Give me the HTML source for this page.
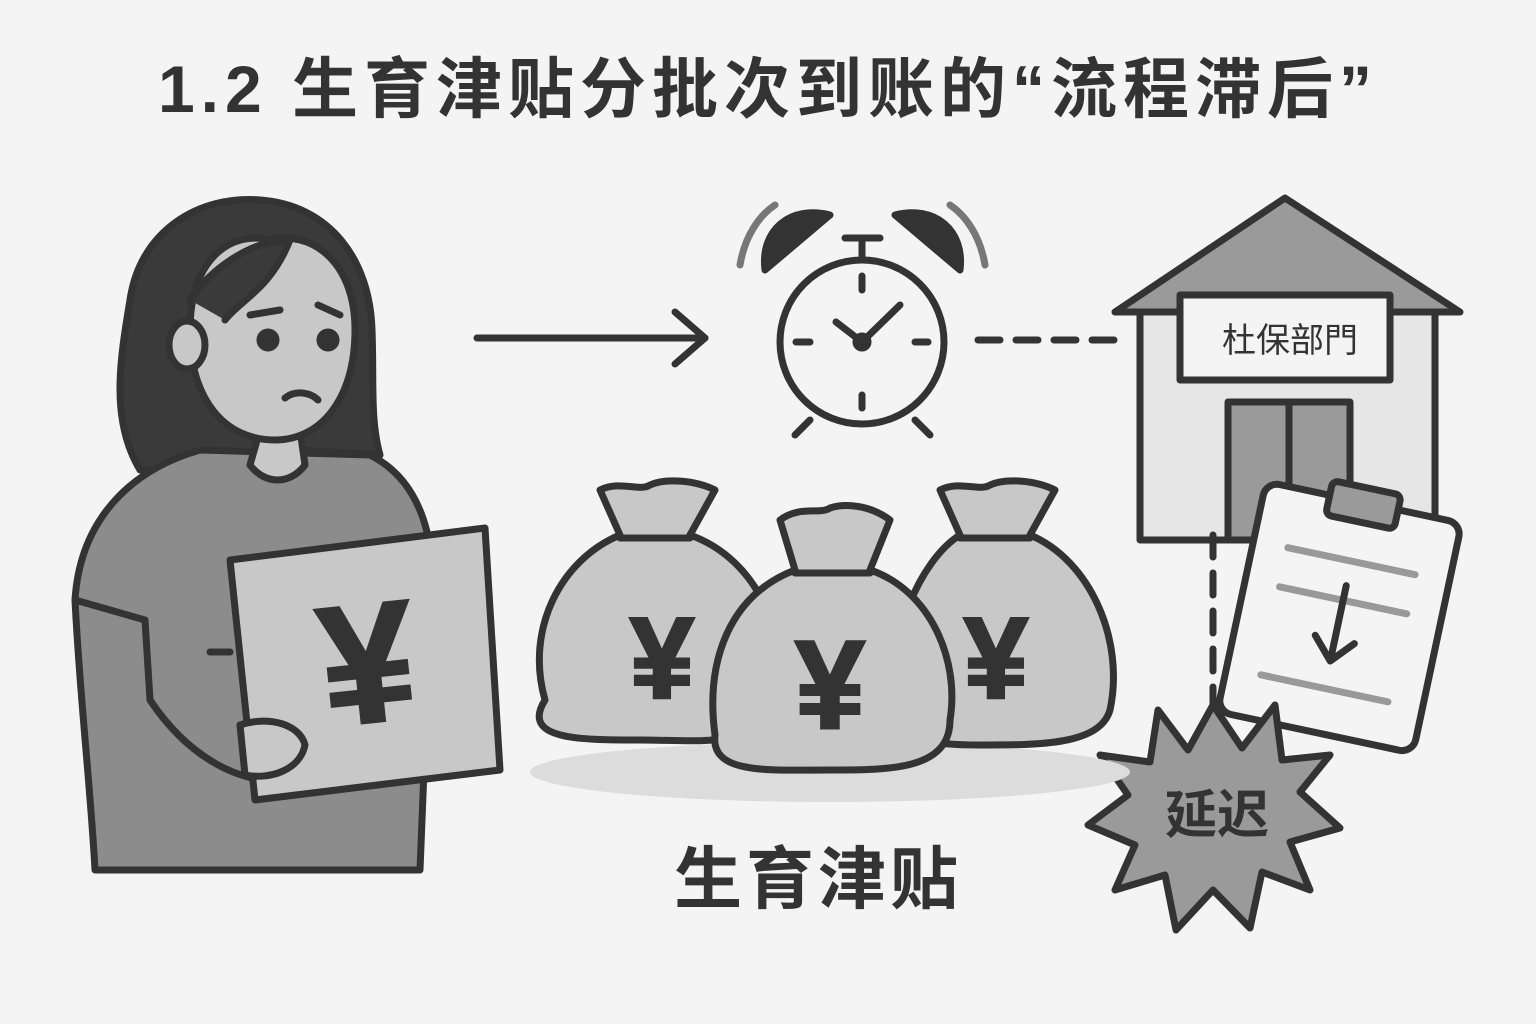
<!DOCTYPE html>
<html><head><meta charset="utf-8"><style>
html,body{margin:0;padding:0;background:#f4f4f4;}
svg{display:block}
text{font-family:"Liberation Sans","Noto Sans CJK SC",sans-serif;font-weight:bold;fill:#333}
</style></head><body>
<svg width="1536" height="1024" viewBox="0 0 1536 1024" xmlns="http://www.w3.org/2000/svg">
<rect width="1536" height="1024" fill="#f4f4f4"/>
<text x="768" y="112" font-size="66" letter-spacing="6" text-anchor="middle">1.2 生育津贴分批次到账的“流程滞后”</text>

<g stroke="#333" stroke-width="7" stroke-linecap="round" stroke-linejoin="round">
<!-- woman -->
<path d="M140,470 C110,420 120,360 130,300 C140,230 200,195 260,200 C330,205 370,260 372,330 C374,380 370,420 380,455 L300,450 L180,470 Z" fill="#3a3a3a"/>
<path d="M75,600 C80,520 130,470 200,450 L370,455 C420,480 440,540 430,620 L420,870 L95,870 C90,780 80,700 75,600 Z" fill="#8c8c8c"/>
<path d="M75,600 L145,620 L150,700 C190,760 240,780 270,780" fill="none"/>
<path d="M250,465 L260,430 L300,430 L305,465 C290,485 265,485 250,465Z" fill="#c8c8c8"/>
<path d="M190,330 C190,260 230,230 270,240 C310,230 355,260 355,330 C355,400 320,440 275,440 C225,440 190,400 190,330Z" fill="#c8c8c8"/>
<path d="M190,300 C210,270 250,240 290,240 C270,290 240,300 225,320" fill="#3a3a3a"/>
<ellipse cx="187" cy="345" rx="18" ry="24" fill="#c8c8c8"/>
<circle cx="268" cy="340" r="8" fill="#333"/><circle cx="328" cy="340" r="8" fill="#333"/>
<path d="M250,315 L280,310 M318,305 L340,315 M285,398 C295,390 310,392 318,400" fill="none"/>
<polygon points="230,560 485,528 500,770 255,800" fill="#c8c8c8"/>
<path d="M240,725 C270,715 300,725 305,745 C300,770 270,780 245,775 Z" fill="#c8c8c8"/>
<line x1="210" y1="652" x2="230" y2="652"/>
<!-- arrow -->
<line x1="477" y1="338" x2="705" y2="338"/>
<polyline points="675,312 705,338 675,364" fill="none"/>
<!-- clock -->
<path d="M765,270 C760,230 790,205 830,215 Z" fill="#333"/>
<path d="M960,270 C965,230 935,205 895,215 Z" fill="#333"/>
<path d="M740,265 C745,235 760,215 775,205 M985,265 C980,235 965,215 950,205" fill="none" stroke="#777"/>
<line x1="862" y1="260" x2="862" y2="238"/><line x1="845" y1="238" x2="880" y2="238"/>
<line x1="810" y1="420" x2="795" y2="435"/><line x1="915" y1="420" x2="930" y2="435"/>
<circle cx="862" cy="342" r="82" fill="#f4f4f4"/>
<line x1="862" y1="276" x2="862" y2="290"/><line x1="862" y1="395" x2="862" y2="408"/>
<line x1="796" y1="342" x2="810" y2="342"/><line x1="915" y1="342" x2="928" y2="342"/>
<polyline points="836,322 862,342 900,305" fill="none"/>
<circle cx="862" cy="342" r="6" fill="#333"/>
<line x1="978" y1="340" x2="1130" y2="340" stroke-dasharray="22 16"/>
<!-- house -->
<rect x="1140" y="305" width="295" height="235" fill="#e6e6e6"/>
<polygon points="1115,312 1285,198 1460,312" fill="#9a9a9a"/>
<rect x="1180" y="295" width="210" height="85" fill="#f4f4f4"/>
<rect x="1228" y="402" width="122" height="138" fill="#9a9a9a"/>
<line x1="1289" y1="402" x2="1289" y2="540"/>
<line x1="1213" y1="535" x2="1213" y2="720" stroke-dasharray="22 16"/>
<!-- clipboard -->
<g transform="rotate(12 1340 615)">
<rect x="1240" y="500" width="200" height="235" rx="14" fill="#f4f4f4"/>
<rect x="1305" y="485" width="70" height="35" rx="6" fill="#9a9a9a"/>
<line x1="1275" y1="560" x2="1405" y2="560" stroke="#999"/>
<line x1="1275" y1="600" x2="1405" y2="600" stroke="#999"/>
<line x1="1275" y1="690" x2="1405" y2="690" stroke="#999"/>
<line x1="1340" y1="585" x2="1340" y2="660"/>
<polyline points="1320,640 1340,662 1360,640" fill="none"/>
</g>
<!-- starburst -->
<polygon points="1213,705 1242,748 1275,705 1282,760 1330,755 1300,792 1340,828 1290,842 1310,890 1262,872 1250,928 1213,890 1176,930 1165,875 1115,890 1135,845 1088,825 1128,795 1100,755 1150,762 1158,710 1188,750" fill="#9a9a9a"/>
<!-- bags -->
<ellipse cx="830" cy="772" rx="300" ry="30" fill="#dcdcdc" stroke="none"/>
<g fill="#c8c8c8">
<path d="M600,490 C620,480 640,492 650,485 C665,478 695,480 715,490 L690,535 C760,560 790,640 775,700 C760,750 700,740 640,740 C580,740 520,740 545,700 C525,630 560,560 620,535 Z"/>
<path d="M940,490 C960,480 980,492 990,485 C1005,478 1035,480 1055,490 L1030,535 C1090,560 1125,640 1110,710 C1100,745 1040,745 980,745 C930,745 900,740 895,710 C885,640 920,560 960,535 Z"/>
<path d="M780,520 C800,505 820,515 830,508 C845,503 870,505 890,520 L870,570 C930,590 960,660 950,720 C950,770 890,770 830,770 C770,770 710,775 715,735 C705,660 730,595 795,570 Z"/>
</g>
<line x1="620" y1="538" x2="690" y2="538"/><line x1="960" y1="538" x2="1030" y2="538"/><line x1="795" y1="573" x2="870" y2="573"/>
</g>
<text x="1290" y="352" font-size="34" text-anchor="middle" style="font-weight:normal">杜保部門</text>
<g text-anchor="middle" stroke="#333" stroke-width="3">
<text x="368" y="722" font-size="170" transform="rotate(-6 368 670)">¥</text>
<text x="662" y="698" font-size="115">¥</text>
<text x="996" y="698" font-size="115">¥</text>
<text x="830" y="728" font-size="125">¥</text>
</g>
<text x="1217" y="833" font-size="52" text-anchor="middle">延迟</text>
<text x="818" y="903" font-size="68" letter-spacing="4" text-anchor="middle">生育津贴</text>
</svg>
</body></html>
